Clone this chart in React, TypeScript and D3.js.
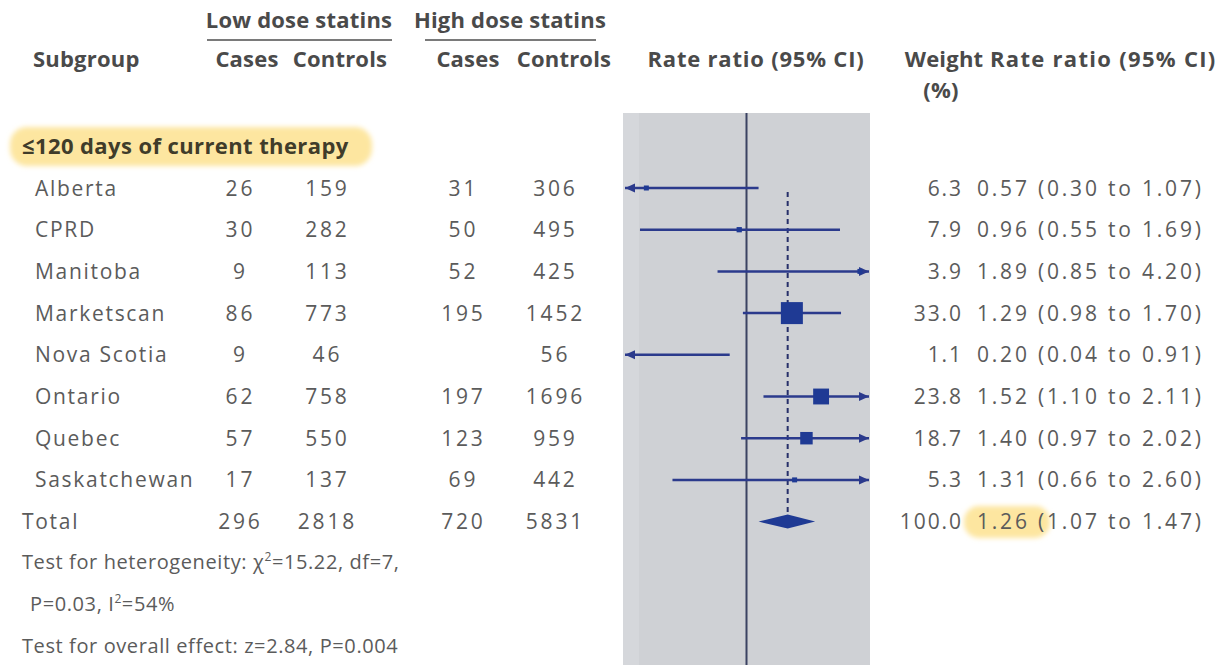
import React from 'react'
import * as d3 from 'd3'

const subgroups = ['Alberta', 'CPRD', 'Manitoba', 'Marketscan', 'Nova Scotia', 'Ontario', 'Quebec', 'Saskatchewan']
const lowCases = ['26', '30', '9', '86', '9', '62', '57', '17']
const lowControls = ['159', '282', '113', '773', '46', '758', '550', '137']
const highCases = ['31', '50', '52', '195', '', '197', '123', '69']
const highControls = ['306', '495', '425', '1452', '56', '1696', '959', '442']
const weights = [6.3, 7.9, 3.9, 33.0, 1.1, 23.8, 18.7, 5.3]
const ratios = [0.57, 0.96, 1.89, 1.29, 0.20, 1.52, 1.40, 1.31]
const lower = [0.30, 0.55, 0.85, 0.98, 0.04, 1.10, 0.97, 0.66]
const upper = [1.07, 1.69, 4.20, 1.70, 0.91, 2.11, 2.02, 2.60]
const totals = ['296', '2818', '720', '5831']
const totalWeight = 100.0
const totalRatio = [1.26, 1.07, 1.47]

const fmt2 = d3.format('.2f')
const fmt1 = d3.format('.1f')

const W = 1224
const H = 665
const textCol = '#5b5b5b'
const headCol = '#4a4a4a'
const navy = '#2b3a8c'
const boxBlue = '#1f3a94'
const bodyFont = "'Open Sans', sans-serif"

// column centres of the count columns
const countCols = [239, 326, 462, 554]
const numSp = 2.8
const wtSp = 1.9

export default function App() {
  const x = d3.scaleLog().domain([0.5, 2]).range([623, 870])
  const y = d3.scaleLinear().domain([0, 8]).range([188, 521.6])
  const side = d3.scaleLinear().domain([0, 33]).range([0, 22])
  const [xMin, xMax] = x.range()

  const txt = { fontFamily: bodyFont, fontSize: 20, fill: textCol, letterSpacing: 0.6 }
  const name = { ...txt, fontSize: 21, letterSpacing: 1.7 }
  const num = { ...txt, fontSize: 21, letterSpacing: numSp }
  const wt = { ...txt, fontSize: 21, letterSpacing: wtSp }
  const head = { fontFamily: bodyFont, fontSize: 22, fontWeight: 700, fill: headCol, letterSpacing: 0.2 }

  const rows = subgroups.map((n, i) => ({
    n, i,
    cells: [lowCases[i], lowControls[i], highCases[i], highControls[i]],
    w: weights[i], rr: ratios[i], lo: lower[i], hi: upper[i]
  }))

  const arrow = (xe: number, yy: number, dir: number) =>
    `M${xe},${yy} L${xe - dir * 10},${yy - 4.5} L${xe - dir * 10},${yy + 4.5} Z`

  const dataCells = (cells: string[], ty: number, w: number, rr: number[]) => (
    <>
      {cells.map((c, k) => (
        <text key={k} x={countCols[k] + numSp / 2} y={ty} style={num} textAnchor="middle">{c}</text>
      ))}
      <text x={961 + wtSp} y={ty} style={wt} textAnchor="end">{fmt1(w)}</text>
      <text x={977} y={ty} style={num}>{`${fmt2(rr[0])} (${fmt2(rr[1])} to ${fmt2(rr[2])})`}</text>
    </>
  )

  return (
    <svg width={W} height={H} style={{ position: 'absolute', left: 0, top: 0, background: '#fff' }}>
      <defs>
        <filter id="soft" x="-10%" y="-30%" width="120%" height="160%">
          <feGaussianBlur stdDeviation="2.5" />
        </filter>
      </defs>

      {/* highlights */}
      <rect x={10} y={127} width={362} height={39} rx={17} fill="#fde6a0" filter="url(#soft)" />
      <rect x={964} y={506} width={86} height={32} rx={15} fill="#fde6a0" filter="url(#soft)" />

      {/* plot panel */}
      <rect x={xMin} y={113} width={xMax - xMin} height={H - 113} fill="#cfd1d5" />
      <rect x={xMin} y={113} width={16} height={H - 113} fill="#d5d7db" />
      <line x1={x(1)} x2={x(1)} y1={113} y2={H} stroke="#3b4262" strokeWidth={2} />
      <line x1={x(totalRatio[0])} x2={x(totalRatio[0])} y1={y(0) + 4} y2={y(8) - 7}
        stroke="#27306a" strokeWidth={2} strokeDasharray="5,4" />

      {/* header */}
      <g style={head}>
        <text x={299} y={28} textAnchor="middle">Low dose statins</text>
        <text x={510} y={28} textAnchor="middle">High dose statins</text>
        <text x={33} y={67}>Subgroup</text>
        <text x={247} y={67} textAnchor="middle">Cases</text>
        <text x={340} y={67} textAnchor="middle">Controls</text>
        <text x={468} y={67} textAnchor="middle">Cases</text>
        <text x={564} y={67} textAnchor="middle">Controls</text>
        <text x={756} y={67} textAnchor="middle" style={{ letterSpacing: 0.8 }}>Rate ratio (95% CI)</text>
        <text x={944} y={67} textAnchor="middle">Weight</text>
        <text x={941} y={98} textAnchor="middle">(%)</text>
        <text x={990} y={67} style={{ letterSpacing: 1.3 }}>Rate ratio (95% CI)</text>
      </g>
      <line x1={207} x2={392} y1={40} y2={40} stroke="#7a7a7a" strokeWidth={2} />
      <line x1={425} x2={596} y1={40} y2={40} stroke="#7a7a7a" strokeWidth={2} />

      <text x={22} y={154} style={{ ...head, fill: '#403c2a', letterSpacing: 0.4 }}>≤120 days of current therapy</text>

      {/* rows */}
      {rows.map(r => {
        const yy = y(r.i)
        const ty = yy + 7.5
        const x0 = r.lo < 0.5 ? xMin + 2 : x(r.lo)
        const x1 = r.hi > 2 ? xMax - 1 : x(r.hi)
        const s = Math.max(5, side(r.w))
        const inRange = r.rr >= 0.5 && r.rr <= 2
        return (
          <g key={r.n}>
            <text x={35} y={ty} style={name}>{r.n}</text>
            {dataCells(r.cells, ty, r.w, [r.rr, r.lo, r.hi])}
            <line x1={x0} x2={x1} y1={yy} y2={yy} stroke={navy} strokeWidth={2.5} />
            {r.lo < 0.5 && <path d={arrow(xMin + 2, yy, -1)} fill={navy} />}
            {r.hi > 2 && <path d={arrow(xMax - 1, yy, 1)} fill={navy} />}
            {inRange && <rect x={x(r.rr) - s / 2} y={yy - s / 2} width={s} height={s} fill={boxBlue} />}
          </g>
        )
      })}

      {/* total */}
      <g>
        <text x={22} y={y(8) + 7.5} style={name}>Total</text>
        {dataCells(totals, y(8) + 7.5, totalWeight, totalRatio)}
        <path
          d={`M${x(totalRatio[1])},${y(8)} L${x(totalRatio[0])},${y(8) - 7} L${x(totalRatio[2])},${y(8)} L${x(totalRatio[0])},${y(8) + 7} Z`}
          fill={boxBlue}
        />
      </g>

      {/* footnotes */}
      <text x={22} y={569} style={txt}>
        Test for heterogeneity: χ<tspan dy={-8} fontSize={12}>2</tspan><tspan dy={8}>=15.22, df=7,</tspan>
      </text>
      <text x={30} y={611} style={txt}>
        P=0.03, I<tspan dy={-8} fontSize={12}>2</tspan><tspan dy={8}>=54%</tspan>
      </text>
      <text x={22} y={653} style={txt}>Test for overall effect: z=2.84, P=0.004</text>
    </svg>
  )
}
